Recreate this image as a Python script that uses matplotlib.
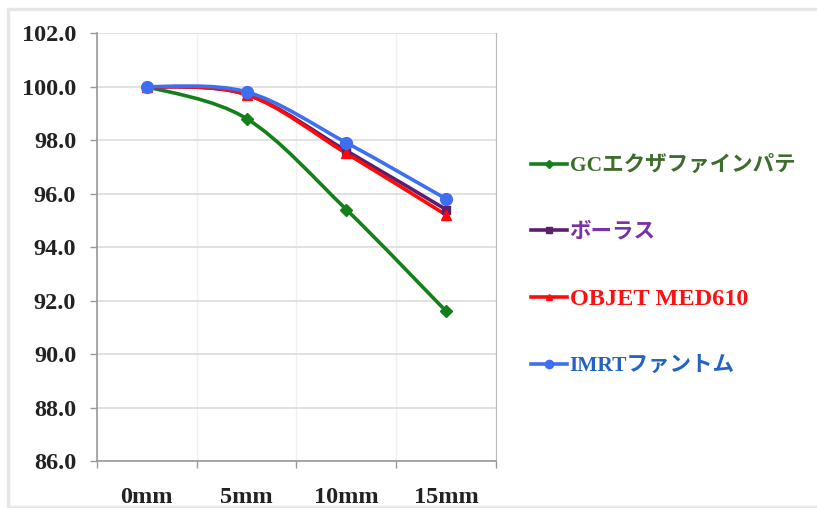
import matplotlib
matplotlib.use("Agg")
import matplotlib.pyplot as plt
from matplotlib.path import Path
from matplotlib.patches import PathPatch
from matplotlib.lines import Line2D
import numpy as np

# data
categories = ["0mm", "5mm", "10mm", "15mm"]
series_names = ["GCエクザファインパテ", "ボーラス", "OBJET MED610", "IMRTファントム"]
gc_vals = [100.0, 98.8, 95.4, 91.6]
bolus_vals = [100.0, 99.7, 97.6, 95.4]
objet_vals = [100.0, 99.7, 97.5, 95.2]
imrt_vals = [100.0, 99.8, 97.9, 95.8]
y_ticks = [86.0, 88.0, 90.0, 92.0, 94.0, 96.0, 98.0, 100.0, 102.0]

line_colors = ["#14801a", "#5c1f6e", "#ff0a0a", "#3d6ff0"]
text_colors = ["#3e6b2e", "#7a30a8", "#ff1010", "#2463c4"]
markers = ["D", "s", "^", "o"]
msizes = [6.5, 6, 7, 8.5]

jp_font = ["Liberation Serif", "Noto Sans CJK JP"]


def smooth_path(xs, ys):
    # cubic bezier through the points, spreadsheet-style smoothing
    pts = np.column_stack([xs, ys]).astype(float)
    n = len(pts)
    verts = [pts[0]]
    codes = [Path.MOVETO]
    for i in range(n - 1):
        p0 = pts[i - 1] if i > 0 else pts[i]
        p1 = pts[i]
        p2 = pts[i + 1]
        p3 = pts[i + 2] if i + 2 < n else pts[i + 1]
        c1 = p1 + (p2 - p0) / 6.0
        c2 = p2 - (p3 - p1) / 6.0
        verts += [c1, c2, p2]
        codes += [Path.CURVE4] * 3
    return Path(verts, codes)


fig = plt.figure(figsize=(8.17, 5.08), dpi=100)
ax = fig.add_axes([0.1187, 0.0925, 0.4884, 0.8425])

# outer chart frame
frame = Line2D([1.05, 0.010, 0.010, 1.05], [0.982, 0.982, 0.002, 0.002],
               transform=fig.transFigure, color="#e6e6e6", lw=2.5,
               solid_joinstyle="round")
fig.add_artist(frame)

x = np.arange(len(categories))
all_vals = [gc_vals, bolus_vals, objet_vals, imrt_vals]
handles = []
for vals, lc, mk, ms, name in zip(all_vals, line_colors, markers, msizes, series_names):
    ax.add_patch(PathPatch(smooth_path(x, vals), facecolor="none",
                           edgecolor=lc, lw=2.6, zorder=3))
    ax.plot(x, vals, linestyle="none", marker=mk, ms=ms, color=lc, zorder=4)
    handles.append(Line2D([], [], color=lc, lw=2.6, marker=mk, ms=ms * 0.7, label=name))

ax.set_xlim(-0.5, 3.5)
ax.set_ylim(86, 102)
ax.set_yticks(y_ticks)
ax.set_yticklabels(["%.1f" % v for v in y_ticks])
ax.set_xticks(x)
ax.set_xticklabels(categories)
ax.set_xticks([-0.5, 0.5, 1.5, 2.5, 3.5], minor=True)

ax.tick_params(axis="x", which="major", length=0, pad=19)
ax.tick_params(axis="x", which="minor", length=5, width=1, color="#999999")
ax.tick_params(axis="y", length=5, width=1, color="#999999", pad=10)
for lab in ax.get_xticklabels() + ax.get_yticklabels():
    lab.set_fontfamily("Liberation Serif")
    lab.set_fontweight("bold")
    lab.set_fontsize(17.5)
    lab.set_color("#222222")

ax.grid(axis="y", color="#dcdcdc", lw=1.2)
ax.grid(axis="x", which="minor", color="#f0f0f0", lw=1)
ax.set_axisbelow(True)
for side in ["left", "bottom"]:
    ax.spines[side].set_color("#999999")
    ax.spines[side].set_linewidth(1.2)
ax.spines["right"].set_color("#bbbbbb")
ax.spines["top"].set_visible(False)

leg = fig.legend(handles=handles, loc="upper left", bbox_to_anchor=(0.626, 0.731),
                 frameon=False, handlelength=1.7, handletextpad=0.1,
                 labelspacing=2.15, prop={"family": jp_font, "weight": "bold", "size": 15.5})
for txt, tc in zip(leg.get_texts(), text_colors):
    txt.set_color(tc)
# the all-latin entry reads a little larger
leg.get_texts()[2].set_fontsize(17.5)

fig.savefig("out.png", dpi=100)
